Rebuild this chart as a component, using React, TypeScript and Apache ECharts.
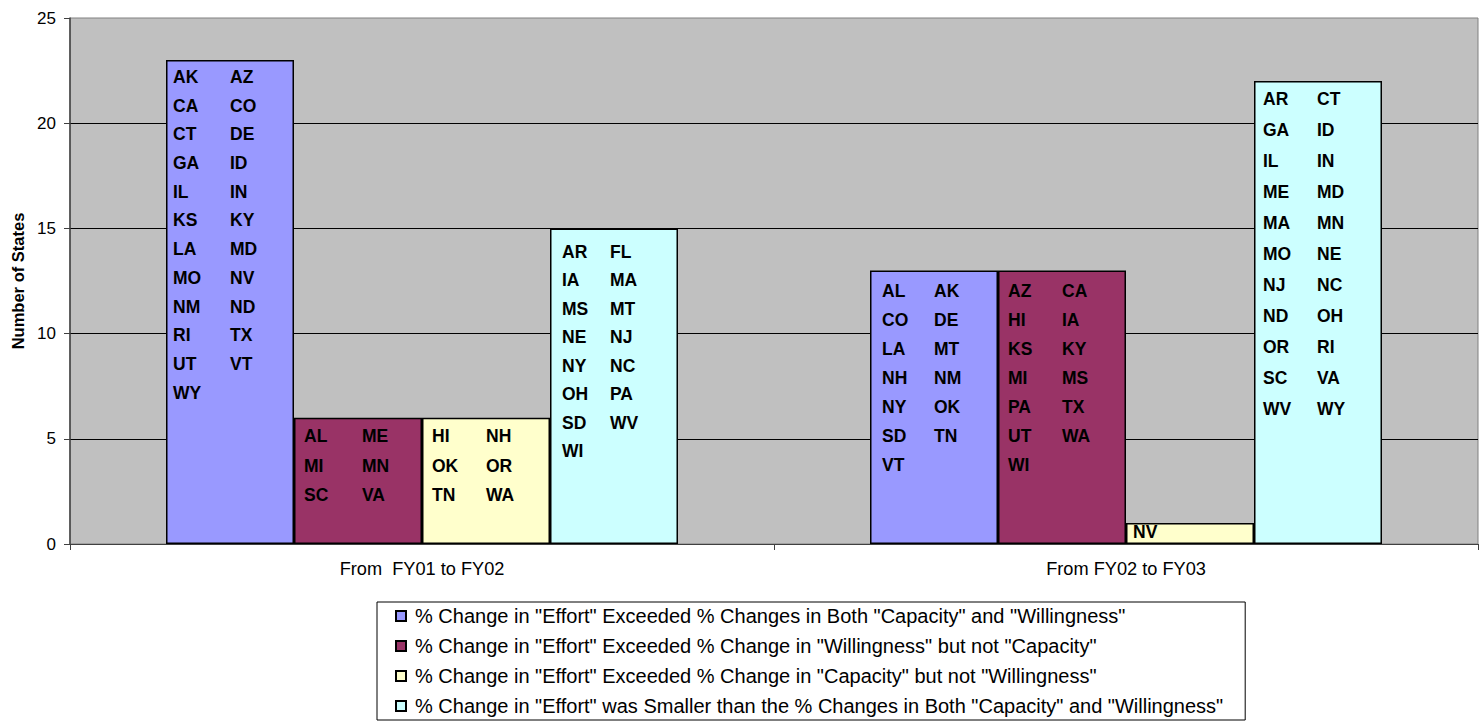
import React, { useEffect, useRef } from "react";
import * as echarts from "echarts";

const categories = ["From  FY01 to FY02", "From FY02 to FY03"];

const seriesNames = [
  '% Change in "Effort" Exceeded % Changes in Both "Capacity" and "Willingness"',
  '% Change in "Effort" Exceeded % Change in "Willingness" but not "Capacity"',
  '% Change in "Effort" Exceeded % Change in "Capacity" but not "Willingness"',
  '% Change in "Effort" was Smaller than the % Changes in Both "Capacity" and "Willingness"',
];

const seriesColors = ["#9999FF", "#993366", "#FFFFCC", "#CCFFFF"];

const effortBoth = [23, 13];
const willingnessOnly = [6, 13];
const capacityOnly = [6, 1];
const effortSmaller = [15, 22];

const yTicks = { min: 0, max: 25, interval: 5 };

// state abbreviations shown inside each bar, two per row
const statesBoth01 = [["AK", "AZ"], ["CA", "CO"], ["CT", "DE"], ["GA", "ID"], ["IL", "IN"], ["KS", "KY"], ["LA", "MD"], ["MO", "NV"], ["NM", "ND"], ["RI", "TX"], ["UT", "VT"], ["WY"]];
const statesWill01 = [["AL", "ME"], ["MI", "MN"], ["SC", "VA"]];
const statesCap01 = [["HI", "NH"], ["OK", "OR"], ["TN", "WA"]];
const statesSmall01 = [["AR", "FL"], ["IA", "MA"], ["MS", "MT"], ["NE", "NJ"], ["NY", "NC"], ["OH", "PA"], ["SD", "WV"], ["WI"]];
const statesBoth02 = [["AL", "AK"], ["CO", "DE"], ["LA", "MT"], ["NH", "NM"], ["NY", "OK"], ["SD", "TN"], ["VT"]];
const statesWill02 = [["AZ", "CA"], ["HI", "IA"], ["KS", "KY"], ["MI", "MS"], ["PA", "TX"], ["UT", "WA"], ["WI"]];
const statesCap02 = [["NV"]];
const statesSmall02 = [["AR", "CT"], ["GA", "ID"], ["IL", "IN"], ["ME", "MD"], ["MA", "MN"], ["MO", "NE"], ["NJ", "NC"], ["ND", "OH"], ["OR", "RI"], ["SC", "VA"], ["WV", "WY"]];

const FONT = "Arial, 'Liberation Sans', Helvetica, sans-serif";

// label layout per bar [series][category]
const labelLayout = [
  [{ pt: 2.5, pl: 7, col: 57, lh: 28.7 }, { pt: 6, pl: 12, col: 52, lh: 29 }],
  [{ pt: 3.5, pl: 10, col: 58, lh: 29.6 }, { pt: 6, pl: 10, col: 54, lh: 29 }],
  [{ pt: 3.5, pl: 10, col: 54, lh: 29.6 }, { pt: 0.5, pl: 7, col: 40, lh: 17 }],
  [{ pt: 9, pl: 12, col: 48, lh: 28.5 }, { pt: 2.2, pl: 9, col: 54, lh: 31 }],
];

const seriesValues = [effortBoth, willingnessOnly, capacityOnly, effortSmaller];
const seriesStates = [
  [statesBoth01, statesBoth02],
  [statesWill01, statesWill02],
  [statesCap01, statesCap02],
  [statesSmall01, statesSmall02],
];

function buildLabel(rows: string[][], lay: { pt: number; pl: number; col: number; lh: number }) {
  const text = rows
    .map((r) => (r.length === 2 ? `{l|${r[0]}}{r|${r[1]}}` : `{l|${r[0]}}`))
    .join("\n");
  const tok = { fontSize: 17.5, fontWeight: "bold", fontFamily: FONT, color: "#000", lineHeight: lay.lh };
  return {
    show: true,
    position: "insideTopLeft",
    distance: 0,
    padding: [lay.pt, 0, 0, lay.pl],
    formatter: () => text,
    rich: {
      l: { ...tok, width: lay.col },
      r: { ...tok },
    },
  };
}

export default function App() {
  const ref = useRef<HTMLDivElement>(null);
  useEffect(() => {
    if (!ref.current) return;
    const chart = echarts.init(ref.current, null, { renderer: "svg" });
    const series = seriesNames.map((name, si) => ({
      name,
      type: "bar",
      barWidth: 128,
      barGap: "0%",
      itemStyle: { color: seriesColors[si], borderColor: "#000", borderWidth: 1.5 },
      data: seriesValues[si].map((v, ci) => ({
        value: v,
        label: buildLabel(seriesStates[si][ci], labelLayout[si][ci]),
      })),
    }));
    chart.setOption({
      animation: false,
      textStyle: { fontFamily: FONT },
      grid: {
        left: 70,
        right: 4,
        top: 18,
        bottom: 184,
        containLabel: false,
        outerBoundsMode: "none",
        show: true,
        backgroundColor: "#C0C0C0",
        borderColor: "#808080",
        borderWidth: 1,
      },
      legend: {
        orient: "vertical",
        left: 377,
        top: 602,
        padding: [4, 22, 4, 18],
        borderColor: "#000",
        borderWidth: 1,
        itemWidth: 10,
        itemHeight: 10,
        itemGap: 10,
        icon: "rect",
        textStyle: { fontSize: 20, lineHeight: 20, color: "#000", fontFamily: FONT, padding: [0, 0, 0, 4] },
        data: seriesNames,
      },
      xAxis: {
        type: "category",
        data: categories,
        axisLine: { lineStyle: { color: "#404040", width: 1 } },
        axisTick: { show: true, length: 6, lineStyle: { color: "#404040" } },
        axisLabel: { fontSize: 18.2, color: "#000", margin: 16, fontFamily: FONT },
        splitLine: { show: false },
      },
      yAxis: {
        type: "value",
        min: yTicks.min,
        max: yTicks.max,
        interval: yTicks.interval,
        name: "Number of States",
        nameLocation: "middle",
        nameRotate: 90,
        nameGap: 43,
        nameTextStyle: { fontSize: 16.5, fontWeight: "bold", color: "#000", fontFamily: FONT },
        axisLine: { show: true, lineStyle: { color: "#404040", width: 1.5 } },
        axisTick: { show: true, length: 6, lineStyle: { color: "#404040" } },
        axisLabel: { fontSize: 17, color: "#000", margin: 14, fontFamily: FONT },
        splitLine: { show: true, showMinLine: false, showMaxLine: false, lineStyle: { color: "#000", width: 1 } },
      },
      series,
    });
    return () => chart.dispose();
  }, []);
  return (
    <div
      ref={ref}
      style={{ position: "fixed", left: 0, top: 0, width: 1482, height: 728, background: "#fff" }}
    />
  );
}
